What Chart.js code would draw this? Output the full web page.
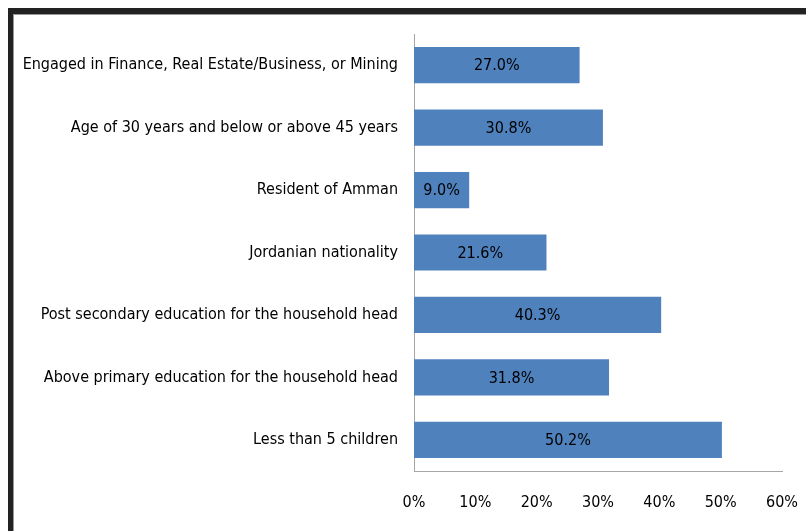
<!DOCTYPE html>
<html>
<head>
<meta charset="utf-8">
<script src="https://cdn.jsdelivr.net/npm/chart.js@4.4.0/dist/chart.umd.min.js"></script>
<style>
  html, body { margin: 0; padding: 0; background: #fff; overflow: hidden; }
  #wrap { position: relative; width: 806px; height: 531px; }
  #frame {
    position: absolute; left: 8px; top: 8px; width: 900px; height: 600px;
    border-left: 5px solid #222; border-top: 6px solid #222;
    box-shadow: inset 1px 1px 0 #999; pointer-events: none;
  }
  canvas { position: absolute; left: 0; top: 0; }
</style>
</head>
<body>
<div id="wrap">
  <canvas id="chart" width="806" height="531"></canvas>
  <div id="frame"></div>
</div>
<script>
const categories = [
  "Engaged in Finance, Real Estate/Business, or Mining",
  "Age of 30 years and below or above 45 years",
  "Resident of Amman",
  "Jordanian nationality",
  "Post secondary education for the household head",
  "Above primary education for the household head",
  "Less than 5 children"
];
const shares = [27.0, 30.8, 9.0, 21.6, 40.3, 31.8, 50.2];
const xTicks = [0, 10, 20, 30, 40, 50, 60];

const fontFamily = "'Liberation Sans Narrow', 'DejaVu Sans Condensed', 'Liberation Sans', sans-serif";

// value label centered inside each bar
const barLabels = {
  id: "barLabels",
  afterDatasetsDraw(chart) {
    const ctx = chart.ctx;
    const meta = chart.getDatasetMeta(0);
    ctx.save();
    ctx.font = "16px " + fontFamily;
    ctx.fillStyle = "#000";
    ctx.textAlign = "center";
    ctx.textBaseline = "middle";
    meta.data.forEach((bar, i) => {
      const cx = (bar.x + bar.base) / 2;
      ctx.fillText(shares[i].toFixed(1) + "%", cx, bar.y + 1);
    });
    ctx.restore();
  }
};

const ctx = document.getElementById("chart").getContext("2d");
new Chart(ctx, {
  type: "bar",
  data: {
    labels: categories,
    datasets: [{
      data: shares,
      backgroundColor: "#4F81BD",
      borderWidth: 0,
      barPercentage: 0.58,
      categoryPercentage: 1.0
    }]
  },
  options: {
    indexAxis: "y",
    responsive: false,
    animation: false,
    layout: { padding: { left: 0, top: 34, right: 24, bottom: 0 } },
    plugins: { legend: { display: false }, tooltip: { enabled: false } },
    scales: {
      x: {
        min: 0,
        max: 60,
        afterBuildTicks(scale) { scale.ticks = xTicks.map(v => ({ value: v })); },
        grid: { display: false, drawTicks: false },
        border: { display: true, color: "#A6A6A6", width: 1 },
        ticks: {
          padding: 22,
          color: "#000",
          font: { family: fontFamily, size: 16 },
          callback: v => v + "%"
        },
        afterFit(scale) {
          scale.height = 60;
          scale.paddingLeft = 0;
          scale.paddingRight = 0;
        }
      },
      y: {
        grid: { display: false, drawTicks: false },
        border: { display: true, color: "#A6A6A6", width: 1 },
        ticks: {
          padding: 16,
          color: "#000",
          font: { family: fontFamily, size: 16 }
        },
        afterFit(scale) { scale.width = 414; }
      }
    }
  },
  plugins: [barLabels]
});
</script>
</body>
</html>
